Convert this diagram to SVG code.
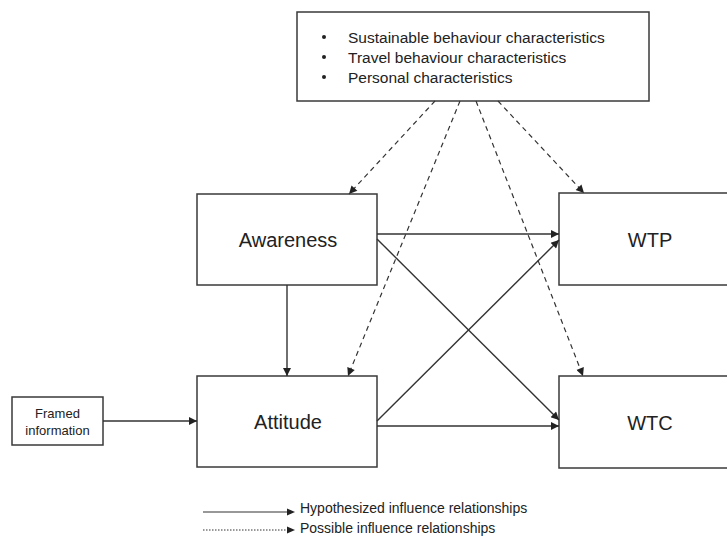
<svg xmlns="http://www.w3.org/2000/svg" width="727" height="537" viewBox="0 0 727 537">
<style>
.box{fill:#fff;stroke:#3a3a3a;stroke-width:1.5}
.lbl{font-family:"Liberation Sans",Arial,sans-serif;fill:#222;text-anchor:middle;dominant-baseline:central}
.txt{font-family:"Liberation Sans",Arial,sans-serif;fill:#222}
.solid{stroke:#333;stroke-width:1.4;fill:none;marker-end:url(#ah)}
.dash{stroke:#333;stroke-width:1.2;fill:none;stroke-dasharray:5,4;marker-end:url(#ah)}
</style>
<defs>
<marker id="ah" viewBox="0 0 10 10" refX="10" refY="5" markerWidth="10" markerHeight="8" markerUnits="userSpaceOnUse" orient="auto">
<path d="M0,0 L10,5 L0,10 z" fill="#222"/>
</marker>
</defs>
<rect width="727" height="537" fill="#fff"/>
<g id="characteristics">
<rect class="box" x="297" y="12" width="352" height="89"/>
<circle cx="324" cy="37" r="2" fill="#222"/>
<circle cx="324" cy="57" r="2" fill="#222"/>
<circle cx="324" cy="77" r="2" fill="#222"/>
<text class="txt" x="348" y="42.5" font-size="15.5">Sustainable behaviour characteristics</text>
<text class="txt" x="348" y="62.5" font-size="15.5">Travel behaviour characteristics</text>
<text class="txt" x="348" y="82.5" font-size="15.5">Personal characteristics</text>
</g>
<g id="awareness">
<rect class="box" x="197" y="194" width="180" height="91"/>
<text class="lbl" x="288" y="240" font-size="20">Awareness</text>
</g>
<g id="attitude">
<rect class="box" x="197" y="376" width="180" height="91"/>
<text class="lbl" x="288" y="422" font-size="20">Attitude</text>
</g>
<g id="wtp">
<rect class="box" x="559" y="193" width="190" height="92"/>
<text class="lbl" x="650" y="240" font-size="20">WTP</text>
</g>
<g id="wtc">
<rect class="box" x="559" y="376" width="190" height="92"/>
<text class="lbl" x="650" y="423" font-size="20">WTC</text>
</g>
<g id="framed">
<rect class="box" x="12" y="397" width="91" height="48"/>
<text class="lbl" x="57.5" y="413" font-size="13">Framed</text>
<text class="lbl" x="57.5" y="430" font-size="13">information</text>
</g>
<g id="connectors">
<line class="solid" x1="103" y1="421" x2="197" y2="421"/>
<line class="solid" x1="287" y1="285" x2="287" y2="376"/>
<line class="solid" x1="377" y1="234" x2="559" y2="234"/>
<line class="solid" x1="377" y1="239" x2="559" y2="420"/>
<line class="solid" x1="377" y1="421" x2="559" y2="240"/>
<line class="solid" x1="377" y1="426" x2="559" y2="426"/>
<line class="dash" x1="435" y1="101" x2="349" y2="194"/>
<line class="dash" x1="460" y1="101" x2="348" y2="376"/>
<line class="dash" x1="476" y1="101" x2="583" y2="376"/>
<line class="dash" x1="498" y1="101" x2="584" y2="193"/>
</g>
<g id="legend">
<line x1="203" y1="512" x2="288" y2="512" stroke="#333" stroke-width="1.2"/>
<path d="M287,508.5 L295,512 L287,515.5 z" fill="#222"/>
<line x1="203" y1="530" x2="288" y2="530" stroke="#333" stroke-width="1" stroke-dasharray="1.5,1.5"/>
<path d="M287,526.5 L295,530 L287,533.5 z" fill="#222"/>
<text class="txt" x="300" y="513" font-size="14">Hypothesized  influence relationships</text>
<text class="txt" x="300" y="533" font-size="14">Possible influence relationships</text>
</g>
</svg>
